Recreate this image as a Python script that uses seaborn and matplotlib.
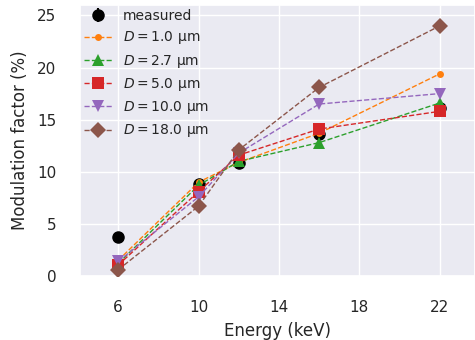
import numpy as np
import pandas as pd
import matplotlib
matplotlib.use("Agg")
import matplotlib.pyplot as plt
import seaborn as sns

energies = [6, 10, 12, 16, 22]
measured = [3.7, 8.8, 10.8, 13.6, 16.1]
measured_err = [0.3, 0.3, 0.3, 0.3, 0.3]

sim_labels = ["1.0", "2.7", "5.0", "10.0", "18.0"]
sim_d1 = [1.5, 9.0, 10.9, 13.7, 19.4]
sim_d27 = [1.2, 8.7, 11.0, 12.8, 16.6]
sim_d5 = [1.05, 8.1, 11.6, 14.1, 15.8]
sim_d10 = [1.4, 7.6, 11.8, 16.5, 17.5]
sim_d18 = [0.6, 6.7, 12.1, 18.1, 24.0]

sns.set_theme(style="darkgrid", context="notebook")

fig = plt.figure(figsize=(4.75, 3.4), dpi=100)
ax = fig.add_axes([80 / 475, 1 - 276 / 340, 395 / 475, 271 / 340])

ax.errorbar(energies, measured, yerr=measured_err, fmt="o", color="black",
            markersize=8, label="measured", zorder=2)

series = [sim_d1, sim_d27, sim_d5, sim_d10, sim_d18]
colors = ["#ff7f0e", "#2ca02c", "#d62728", "#9467bd", "#8c564b"]
markers = ["o", "^", "s", "v", "D"]
sizes = [5, 8, 8, 8, 8]
for lab, vals, c, m, s in zip(sim_labels, series, colors, markers, sizes):
    df = pd.DataFrame({"E": energies, "M": vals})
    sns.lineplot(data=df, x="E", y="M", ax=ax, color=c, marker=m,
                 markersize=s, markeredgewidth=0, linestyle="--", linewidth=1,
                 label=r"$D = $" + lab + " µm", zorder=3)

ax.set_xlim(4.1, 23.75)
ax.set_ylim(0, 26)
ax.set_xticks([6, 10, 14, 18, 22])
ax.set_yticks([0, 5, 10, 15, 20, 25])
ax.tick_params(axis="both", length=0, pad=17)
ax.set_xlabel("Energy (keV)", labelpad=5)
ax.set_ylabel("Modulation factor (%)", labelpad=6)

handles, labels = ax.get_legend_handles_labels()
idx = labels.index("measured")
order = [idx] + [i for i in range(len(labels)) if i != idx]
ax.legend([handles[i] for i in order], [labels[i] for i in order],
          loc="upper left", frameon=False, fontsize=10, borderaxespad=0.0,
          borderpad=0.3, handlelength=2.0, handletextpad=0.8,
          labelspacing=0.45)

fig.savefig("out.png", dpi=100)
